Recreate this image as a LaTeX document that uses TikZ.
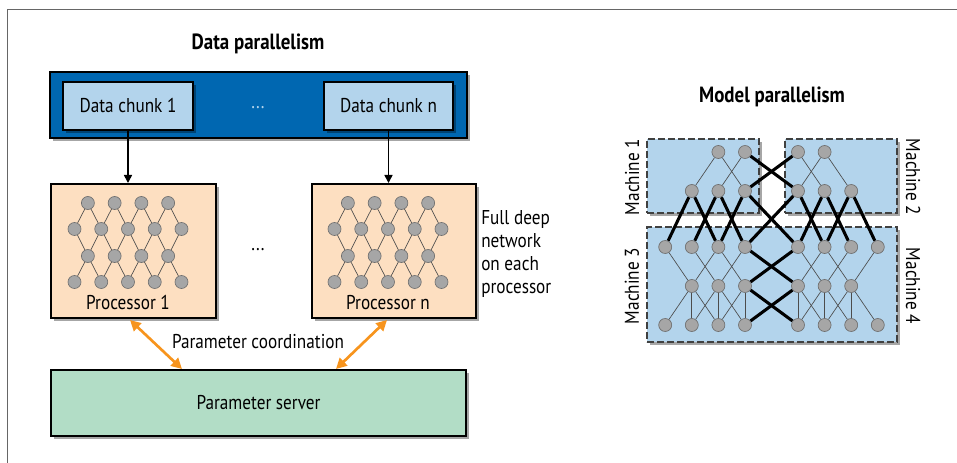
\documentclass[tikz,border=0pt]{standalone}
\usepackage{fontspec}
\setmainfont{PT Sans}[FakeStretch=0.86]
\usetikzlibrary{shadows,arrows.meta,fit}
\definecolor{dblue}{HTML}{0067B1}
\definecolor{lblue}{HTML}{B3D4EC}
\definecolor{peach}{HTML}{FDDFC1}
\definecolor{mint}{HTML}{B2DDC6}
\definecolor{orng}{HTML}{F7941D}
\definecolor{ngray}{HTML}{A6A6A6}
\definecolor{ndark}{HTML}{6E6E6E}
\pgfdeclarelayer{bg}\pgfdeclarelayer{edges}\pgfsetlayers{bg,edges,main}
\tikzset{
 shad/.style={drop shadow={shadow xshift=2pt,shadow yshift=-2pt,opacity=0.35,fill=black}},
 box/.style={draw=black,line width=1.5pt,inner sep=0pt,shad},
 mbox/.style={draw=black!75,dash pattern=on 5pt off 2.5pt,line width=1pt,fill=lblue,inner sep=0pt,shad},
 neuron/.style={circle,fill=ngray,draw=ndark,line width=0.5pt,minimum size=9.75pt,inner sep=0pt},
 thinedge/.style={draw=black!70,line width=0.5pt},
 thickedge/.style={draw=black,line width=2.3pt},
 lbl/.style={font=\fontsize{15}{17.25}\selectfont,inner sep=0pt},
 ttl/.style={font=\fontsize{16.5}{18}\selectfont\bfseries,inner sep=0pt},
 arr/.style={draw=black,line width=1.2pt,-{Triangle[length=6pt,width=6pt]}},
 oarr/.style={draw=orng,line width=2pt,{Triangle[length=8pt,width=8pt]}-{Triangle[length=8pt,width=8pt]}},
}
\begin{document}
\begin{tikzpicture}[x=0.75pt,y=-0.75pt]
\useasboundingbox (0,0) rectangle (957,463);
\draw[black!60,line width=0.75pt] (7,463) -- (7,10) -- (957,10);

\begin{pgfonlayer}{bg}
\node[box,fill=dblue,fit={(50,72)(467,138)}] (blue) {};
\node[box,fill=lblue,fit={(63,82)(193,130)}] (c1) {};
\node[box,fill=lblue,fit={(324,82)(453,130)}] (cn) {};
\node[box,fill=peach,fit={(51,184)(216,318)}] (p1) {};
\node[box,fill=peach,fit={(312,184)(476,318)}] (pn) {};
\node[box,fill=mint,fit={(51,370)(466,436)}] (ps) {};
\node[mbox,fit={(647,139)(759,213)}] (m1) {};
\node[mbox,fit={(785,139)(897,213)}] (m2) {};
\node[mbox,fit={(647,227)(897,342)}] (m34) {};
\end{pgfonlayer}

% titles and labels
\node[ttl] (t1) at (258,44) {Data parallelism};
\node[lbl] (c1t) at (c1.center) {Data chunk 1};
\node[lbl] (cnt) at (cn.center) {Data chunk n};
\node[lbl,text=lblue] (dots1) at (258,108) {...};
\node[lbl] (dots2) at (258,250) {...};
\node[lbl] (p1t) at (128,303) {Processor 1};
\node[lbl] (pnt) at (388,303) {Processor n};
\node[lbl,align=left,anchor=west] (full) at (481,254) {Full deep\\network\\on each\\processor};
\node[lbl] (pc) at (258,342) {Parameter coordination};
\node[lbl] (pst) at (ps.center) {Parameter server};
\node[ttl] (t2) at (772,97) {Model parallelism};
\node[lbl,rotate=90] (ml1) at (632,177) {Machine 1};
\node[lbl,rotate=-90] (ml2) at (913,177) {Machine 2};
\node[lbl,rotate=90] (ml3) at (632,286) {Machine 3};
\node[lbl,rotate=-90] (ml4) at (913,286) {Machine 4};

% arrows
\draw[arr] (c1.south) -- (c1.south |- p1.north);
\draw[arr] (cn.south) -- (cn.south |- pn.north);
\coordinate (o1a) at (130,320);
\coordinate (o1b) at (182,369);
\coordinate (o2a) at (387,320);
\coordinate (o2b) at (336,369);
\draw[oarr] (o1a) -- (o1b);
\draw[oarr] (o2a) -- (o2b);

% processor networks
\foreach \p/\dx in {a/0,b/260}{
  \foreach \k in {0,...,3}{
    \node[neuron] (\p-1-\k) at (87.9+\k*26.75+\dx,203) {};
    \node[neuron] (\p-3-\k) at (87.9+\k*26.75+\dx,256) {};
  }
  \foreach \k in {0,...,4}{
    \node[neuron] (\p-2-\k) at (74.5+\k*26.75+\dx,229) {};
    \node[neuron] (\p-4-\k) at (74.5+\k*26.75+\dx,282) {};
  }
}
\begin{pgfonlayer}{edges}
\foreach \p in {a,b}{
  \foreach \k in {0,...,3}{
    \pgfmathtruncatemacro\kk{\k+1}
    \draw[thinedge] (\p-1-\k) -- (\p-2-\k);
    \draw[thinedge] (\p-1-\k) -- (\p-2-\kk);
    \draw[thinedge] (\p-3-\k) -- (\p-2-\k);
    \draw[thinedge] (\p-3-\k) -- (\p-2-\kk);
    \draw[thinedge] (\p-3-\k) -- (\p-4-\k);
    \draw[thinedge] (\p-3-\k) -- (\p-4-\kk);
  }
}
\end{pgfonlayer}

% model network
\foreach \i/\x in {2/718.4,3/745,4/798,5/824.6}{\node[neuron] (m0-\i) at (\x,152) {};}
\foreach \i/\x in {1/691.8,2/718.4,3/745,4/798,5/824.6,6/851.2}{
  \node[neuron] (m1-\i) at (\x,191) {};
  \node[neuron] (m3-\i) at (\x,286) {};
}
\foreach \i/\x in {0/665.2,1/691.8,2/718.4,3/745,4/798,5/824.6,6/851.2,7/877.8}{
  \node[neuron] (m2-\i) at (\x,247) {};
  \node[neuron] (m4-\i) at (\x,325) {};
}
\begin{pgfonlayer}{edges}
\foreach \a/\b in {2/1,2/3,3/2,4/5,5/4,5/6}{\draw[thinedge] (m0-\a) -- (m1-\b);}
\foreach \a/\b in {3/4,4/3}{\draw[thickedge] (m0-\a) -- (m1-\b);}
\foreach \a/\b in {1/0,1/2,2/1,2/3,3/2,3/4,4/3,4/5,5/4,5/6,6/5,6/7}{\draw[thickedge] (m1-\a) -- (m2-\b);}
\foreach \a/\b in {0/1,1/2,2/1,2/3,3/2,4/5,5/4,5/6,6/5,7/6}{\draw[thinedge] (m2-\a) -- (m3-\b);}
\foreach \a/\b in {3/4,4/3}{\draw[thickedge] (m2-\a) -- (m3-\b);}
\foreach \a/\b in {1/0,1/1,1/2,2/1,2/2,2/3,3/2,3/3,4/4,4/5,5/4,5/5,5/6,6/5,6/6,6/7}{\draw[thinedge] (m3-\a) -- (m4-\b);}
\foreach \a/\b in {3/4,4/3}{\draw[thickedge] (m3-\a) -- (m4-\b);}
\end{pgfonlayer}
\end{tikzpicture}
\end{document}
